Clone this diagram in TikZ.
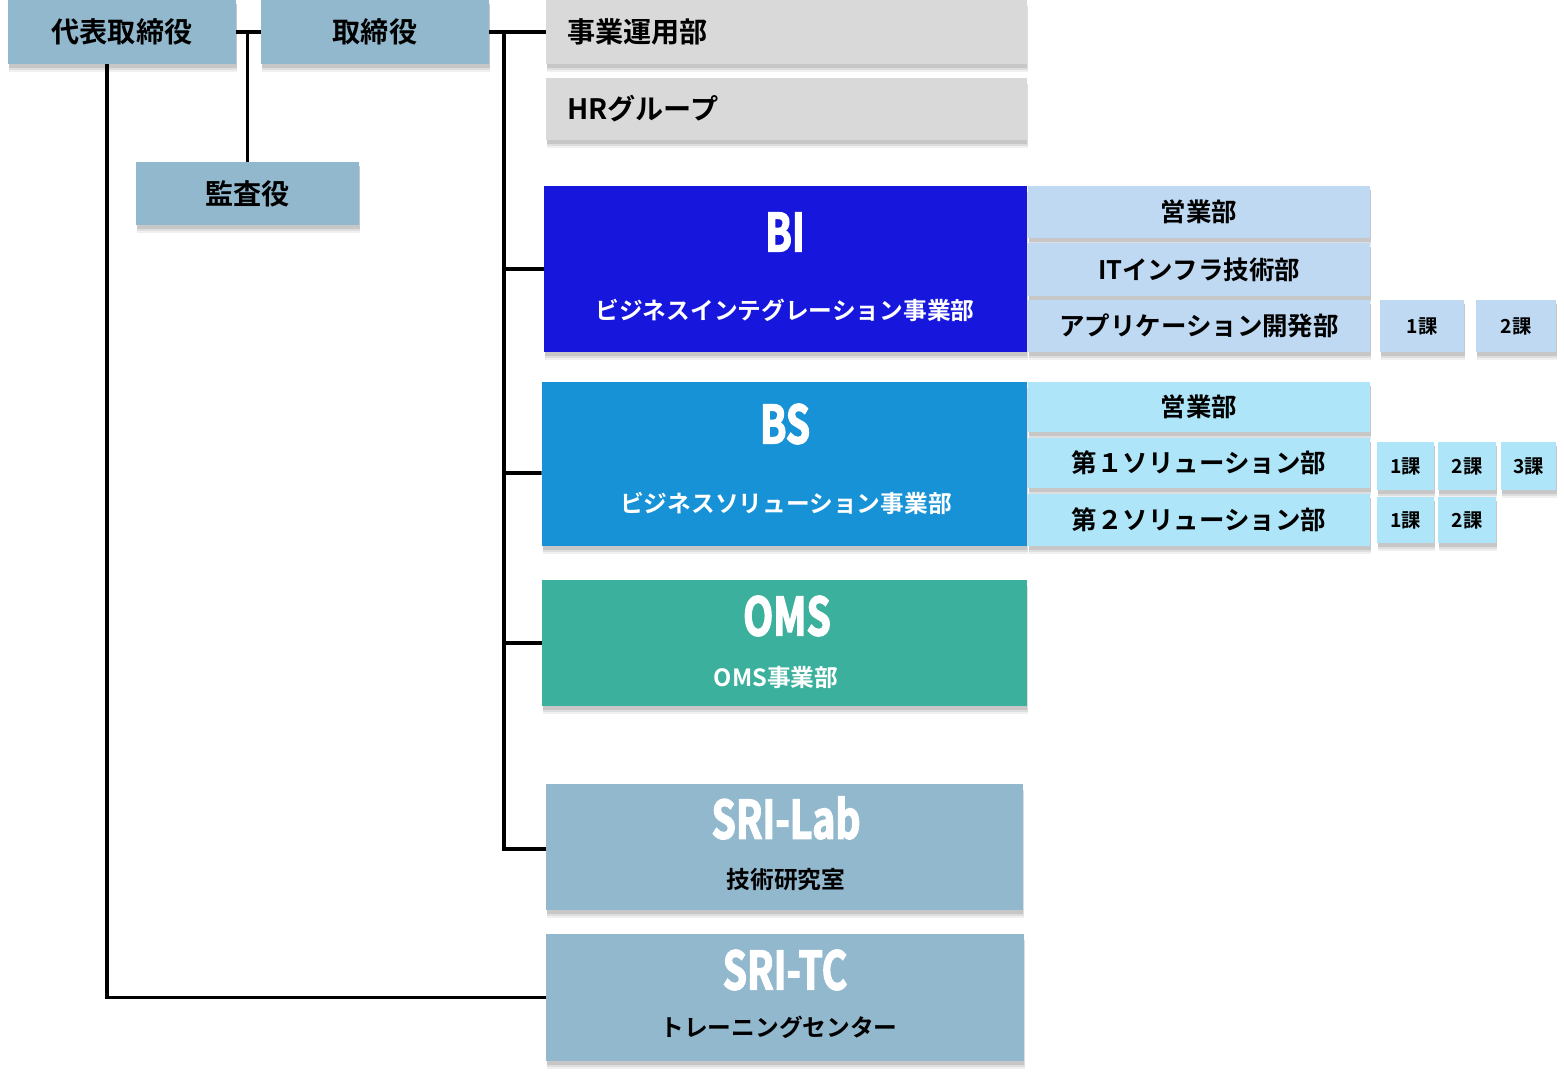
\documentclass[tikz,border=0pt]{standalone}
\usepackage{fontspec}
\setmainfont{Noto Sans CJK JP}[BoldFont={Noto Sans CJK JP Bold}]
\newfontfamily\condfont{Noto Sans CJK JP Bold}[FakeStretch=0.74, FakeBold=2.5]
\usetikzlibrary{shadows}
\definecolor{steel}{HTML}{92B8CE}
\definecolor{paper}{HTML}{D9D9D9}
\definecolor{biblue}{HTML}{1616DC}
\definecolor{bipale}{HTML}{BFD9F2}
\definecolor{bsblue}{HTML}{1892D6}
\definecolor{bspale}{HTML}{AEE5F8}
\definecolor{omsgreen}{HTML}{3BB09C}

\begin{document}
\begin{tikzpicture}[x=0.02cm, y=-0.02cm]
	\useasboundingbox (0,0) rectangle (1564,1078);
	\tikzstyle{unit}=[rectangle, inner sep=0pt, align=center,
		drop shadow={shadow xshift=0.8pt, shadow yshift=-4.5pt, fill=black!6, opacity=1},
		drop shadow={shadow xshift=0.5pt, shadow yshift=-3.2pt, fill=black!13, opacity=1},
		drop shadow={shadow xshift=0.3pt, shadow yshift=-2pt, fill=black!22, opacity=1}]
	\tikzstyle{exec}=[unit, fill=steel, font=\bfseries\fontsize{16pt}{19pt}\selectfont]
	\tikzstyle{staff}=[unit, fill=paper, minimum height=1.28cm, inner xsep=0.42cm, text width=8.78cm, align=left, font=\bfseries\fontsize{16pt}{19pt}\selectfont]
	\tikzstyle{division}=[unit, minimum width=9.7cm]
	\tikzstyle{dept}=[unit, minimum width=6.84cm, minimum height=1.02cm, font=\bfseries\fontsize{14.5pt}{17pt}\selectfont]
	\tikzstyle{section}=[unit, minimum height=0.96cm, font=\bfseries\fontsize{11pt}{13pt}\selectfont]
	\tikzstyle{bigtitle}=[inner sep=0pt, text=white, font=\condfont\fontsize{30pt}{34pt}\selectfont]
	\tikzstyle{caption}=[inner sep=0pt, font=\bfseries\fontsize{13.5pt}{16pt}\selectfont]
	\tikzstyle{conn}=[line width=2pt, black]

	\node[exec, minimum width=4.56cm, minimum height=1.28cm] (ceo) at (122, 32) {代表取締役};
	\node[exec, minimum width=4.56cm, minimum height=1.28cm] (board) at (375, 32) {取締役};
	\node[exec, minimum width=4.46cm, minimum height=1.26cm] (audit) at (247.5, 193.5) {監査役};

	\node[staff] (ops) at (786.5, 32) {事業運用部};
	\node[staff, minimum height=1.24cm] (hr) at (786.5, 109) {HRグループ};

	\node[division, fill=biblue, minimum width=9.66cm, minimum height=3.32cm] (bi) at (785.5, 269) {};
	\node[bigtitle] (bititle) at (785, 232) {BI};
	\node[caption, text=white] (bisub) at (785, 310) {ビジネスインテグレーション事業部};
	\node[dept, fill=bipale, minimum height=1.04cm] (bisales) at (1199, 212) {営業部};
	\node[dept, fill=bipale, minimum height=1.06cm] (biinfra) at (1199, 269.5) {ITインフラ技術部};
	\node[dept, fill=bipale, minimum height=1.04cm] (biapp) at (1199, 326) {アプリケーション開発部};
	\node[section, fill=bipale, minimum width=1.68cm, minimum height=1.04cm] (appone) at (1422, 326) {1課};
	\node[section, fill=bipale, minimum width=1.6cm, minimum height=1.04cm] (apptwo) at (1516, 326) {2課};

	\node[division, fill=bsblue, minimum height=3.28cm] (bs) at (784.5, 464) {};
	\node[bigtitle] (bstitle) at (785, 424) {BS};
	\node[caption, text=white] (bssub) at (786, 503) {ビジネスソリューション事業部};
	\node[dept, fill=bspale, minimum height=1.0cm] (bssales) at (1199, 407) {営業部};
	\node[dept, fill=bspale, minimum height=1.0cm] (solone) at (1199, 463) {第１ソリューション部};
	\node[dept, fill=bspale, minimum height=1.04cm] (soltwo) at (1199, 520) {第２ソリューション部};
	\node[section, fill=bspale, minimum width=1.14cm] (sonea) at (1405.5, 466) {1課};
	\node[section, fill=bspale, minimum width=1.16cm] (soneb) at (1467, 466) {2課};
	\node[section, fill=bspale, minimum width=1.1cm] (sonec) at (1528.5, 466) {3課};
	\node[section, fill=bspale, minimum width=1.14cm, minimum height=0.92cm] (stwoa) at (1405.5, 520) {1課};
	\node[section, fill=bspale, minimum width=1.16cm, minimum height=0.92cm] (stwob) at (1467, 520) {2課};

	\node[division, fill=omsgreen, minimum height=2.52cm] (oms) at (784.5, 643) {};
	\node[bigtitle] (omstitle) at (787, 616) {OMS};
	\node[caption, text=white] (omssub) at (776, 678) {OMS事業部};

	\node[division, fill=steel, minimum width=9.54cm, minimum height=2.52cm] (lab) at (784.5, 847) {};
	\node[bigtitle] (labtitle) at (786, 818) {SRI-Lab};
	\node[caption] (labsub) at (786, 880) {技術研究室};

	\node[division, fill=steel, minimum width=9.56cm, minimum height=2.54cm] (tc) at (785, 997.5) {};
	\node[bigtitle] (tctitle) at (785, 970) {SRI-TC};
	\node[caption] (tcsub) at (779, 1027) {トレーニングセンター};

	\coordinate (trunk) at (504, 33);
	\draw[conn] (ceo.east) -- (board.west);
	\draw[conn] (audit.north) -- (audit.north |- ceo.east);
	\draw[conn] ([xshift=-0.3cm]ceo.south) |- (tc.west);
	\draw[conn] (board.east) -- (ops.west);
	\draw[conn] (trunk) |- ([yshift=-0.04cm]lab.west);
	\draw[conn] (trunk |- bi.west) -- (bi.west);
	\draw[conn] (trunk |- 0,473) -- ([yshift=-0.18cm]bs.west);
	\draw[conn] (trunk |- oms.west) -- (oms.west);
\end{tikzpicture}
\end{document}
